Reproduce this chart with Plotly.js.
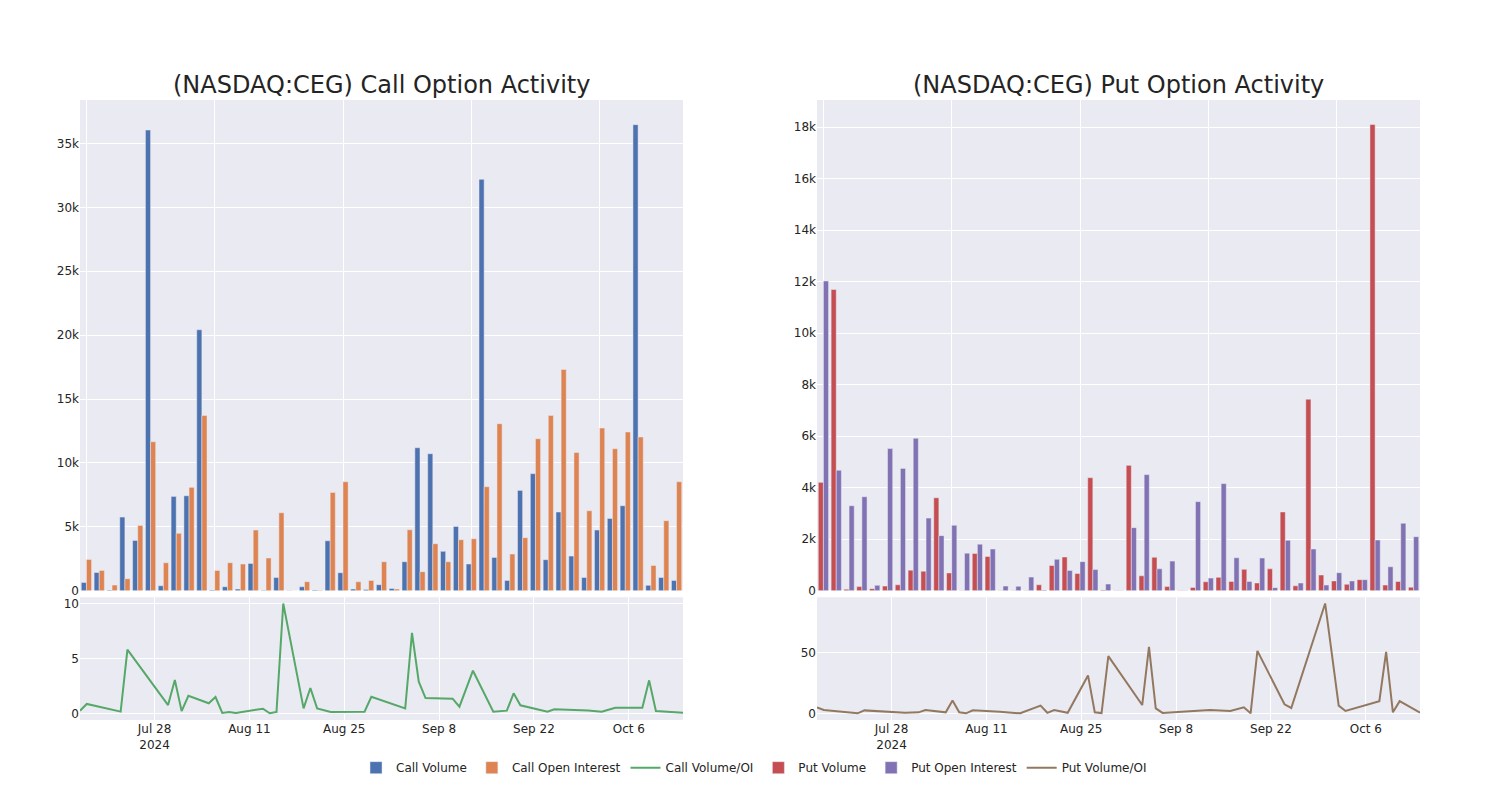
<!DOCTYPE html>
<html>
<head>
<meta charset="utf-8">
<script src="https://cdn.plot.ly/plotly-3.0.1.min.js"></script>
<style>html,body{margin:0;padding:0;background:#fff;}#chart{width:1500px;height:800px;}</style>
</head>
<body>
<div id="chart"></div>
<script>
const dates = ['2024-07-17','2024-07-18','2024-07-23','2024-07-24','2024-07-30','2024-07-31','2024-08-01','2024-08-02','2024-08-05','2024-08-06','2024-08-07','2024-08-08','2024-08-09','2024-08-13','2024-08-14','2024-08-15','2024-08-16','2024-08-19','2024-08-20','2024-08-21','2024-08-23','2024-08-26','2024-08-27','2024-08-28','2024-08-29','2024-09-03','2024-09-04','2024-09-05','2024-09-06','2024-09-10','2024-09-11','2024-09-13','2024-09-16','2024-09-18','2024-09-19','2024-09-20','2024-09-24','2024-09-25','2024-09-30','2024-10-02','2024-10-03','2024-10-04','2024-10-08','2024-10-09','2024-10-10','2024-10-11','2024-10-14'];

const callVolume = [650,1430,50,5760,3940,36050,390,7380,7430,20420,50,310,130,2140,30,1040,20,310,60,3910,1410,130,100,470,180,2270,11190,10720,3080,5030,2090,32190,2610,810,7850,9160,2430,6160,2710,1040,4750,5660,6650,36470,420,1040,810];
const callOpenInterest = [2450,1590,440,940,5110,11660,2190,4490,8090,13720,1590,2190,2090,4750,2560,6100,2,700,30,7690,8530,700,810,2270,130,4770,1490,3680,2270,3990,4070,8140,13070,2870,4150,11890,13720,17320,10820,6260,12730,11110,12420,12030,1980,5480,8530];
const callRatio = [0.24,0.85,0.15,5.8,0.75,3.03,0.2,1.6,0.91,1.48,0.03,0.12,0.03,0.42,0.0,0.12,10.0,0.45,2.3,0.45,0.12,0.15,0.15,0.15,1.5,0.45,7.33,2.88,1.39,1.33,0.6,3.88,0.15,0.24,1.82,0.73,0.15,0.36,0.25,0.15,0.33,0.5,0.5,3.0,0.21,0.17,0.06];

const putVolume = [4210,11700,60,160,80,180,230,800,760,3610,690,10,1450,1330,10,10,10,230,980,1310,670,4390,30,10,4870,580,1300,160,10,130,350,520,360,830,300,850,3060,190,7440,610,380,250,430,18110,220,360,140];
const putOpenInterest = [12030,4680,3300,3650,210,5520,4750,5920,2820,2140,2540,1460,1810,1620,180,170,530,30,1220,790,1130,820,260,10,2450,4510,850,1150,10,3460,490,4160,1280,360,1270,120,1960,300,1620,220,700,380,430,1970,930,2620,2100];
const putRatio = [4.9,2.7,0.0,2.4,0.4,0.3,0.8,2.7,0.8,10.6,0.8,0.0,2.5,1.2,0.8,0.4,0.0,6.3,0.4,2.7,0.4,31.1,0.8,0.2,47,6.8,54.6,4.1,0.3,1.6,2.0,2.7,1.9,4.9,0.0,51.3,7.4,4.4,90.2,6.3,1.9,3.5,10.0,50.5,0.8,10.0,0.5];

const titles = ['(NASDAQ:CEG) Call Option Activity','(NASDAQ:CEG) Put Option Activity'];

const C = {
  cv:'rgb(76,114,176)', coi:'rgb(221,132,82)', cr:'rgb(85,168,104)',
  pv:'rgb(196,78,82)', poi:'rgb(129,114,179)', pr:'rgb(147,120,96)'
};
const barLine = {color:'rgb(234,234,242)', width:0.5};

const traces = [
  {type:'bar', name:'Call Volume', x:dates, y:callVolume, xaxis:'x', yaxis:'y', marker:{color:C.cv, line:barLine}},
  {type:'bar', name:'Call Open Interest', x:dates, y:callOpenInterest, xaxis:'x', yaxis:'y', marker:{color:C.coi, line:barLine}},
  {type:'scatter', mode:'lines', name:'Call Volume/OI', x:dates, y:callRatio, xaxis:'x3', yaxis:'y3', line:{color:C.cr, width:2}},
  {type:'bar', name:'Put Volume', x:dates, y:putVolume, xaxis:'x2', yaxis:'y2', marker:{color:C.pv, line:barLine}},
  {type:'bar', name:'Put Open Interest', x:dates, y:putOpenInterest, xaxis:'x2', yaxis:'y2', marker:{color:C.poi, line:barLine}},
  {type:'scatter', mode:'lines', name:'Put Volume/OI', x:dates, y:putRatio, xaxis:'x4', yaxis:'y4', line:{color:C.pr, width:2}}
];

const gridAx = {gridcolor:'white', linecolor:'white', zerolinecolor:'white', ticks:'', showline:false, tickfont:{size:12}};
const topDom = [0.2085, 1], botDom = [0, 0.198];
const leftDom = [0, 0.45], rightDom = [0.55, 1];
const twoWeeks = 14*24*3600*1000;

const layout = {
  width:1500, height:800,
  margin:{l:80, r:80, t:100, b:80},
  paper_bgcolor:'white', plot_bgcolor:'rgb(234,234,242)',
  font:{family:'"DejaVu Sans", sans-serif', color:'rgb(36,36,36)', size:12},
  barmode:'group', bargap:0.2,
  showlegend:true,
  legend:{orientation:'h', x:0.503, xanchor:'center', y:-0.0535, yanchor:'top', font:{size:12}},
  xaxis:Object.assign({}, gridAx, {domain:leftDom, anchor:'y', type:'category', showticklabels:false, dtick:10, tick0:0}),
  yaxis:Object.assign({}, gridAx, {domain:topDom, anchor:'x', range:[0,38400], dtick:5000}),
  xaxis2:Object.assign({}, gridAx, {domain:rightDom, anchor:'y2', type:'category', showticklabels:false, dtick:10, tick0:0}),
  yaxis2:Object.assign({}, gridAx, {domain:topDom, anchor:'x2', range:[0,19060], dtick:2000}),
  xaxis3:Object.assign({}, gridAx, {domain:leftDom, anchor:'y3', type:'date', range:['2024-07-17','2024-10-14'], dtick:twoWeeks, tick0:'2024-07-28'}),
  yaxis3:Object.assign({}, gridAx, {domain:botDom, anchor:'x3', range:[-0.61,10.57], dtick:5}),
  xaxis4:Object.assign({}, gridAx, {domain:rightDom, anchor:'y4', type:'date', range:['2024-07-17','2024-10-14'], dtick:twoWeeks, tick0:'2024-07-28'}),
  yaxis4:Object.assign({}, gridAx, {domain:botDom, anchor:'x4', range:[-5.5,95.3], dtick:50}),
  annotations:[
    {text:titles[0], xref:'paper', yref:'paper', x:(leftDom[0]+leftDom[1])/2, y:1, xanchor:'center', yanchor:'bottom', yshift:-1, showarrow:false, font:{size:24}},
    {text:titles[1], xref:'paper', yref:'paper', x:(rightDom[0]+rightDom[1])/2, y:1, xanchor:'center', yanchor:'bottom', yshift:-1, showarrow:false, font:{size:24}}
  ]
};

Plotly.newPlot('chart', traces, layout, {displayModeBar:false, staticPlot:true});
</script>
</body>
</html>
